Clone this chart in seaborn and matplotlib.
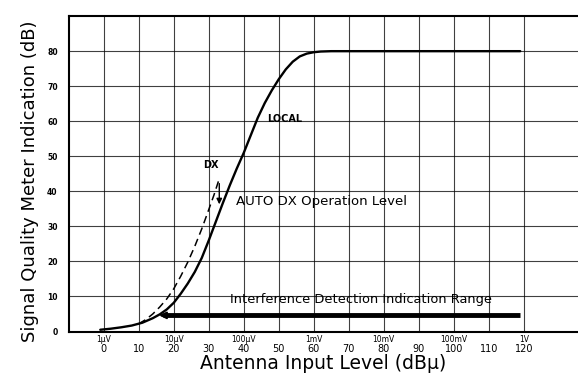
import matplotlib
matplotlib.use("Agg")
import matplotlib.pyplot as plt
import seaborn as sns
import pandas as pd

# LOCAL curve (solid)
local_x = [-1, 2, 5, 8, 11, 14, 16, 18, 20, 22, 24, 26, 28, 30, 32, 34, 36, 38, 40, 42, 44, 46, 48,
           50, 52, 54, 56, 58, 60, 62, 65, 80, 100, 119]
local_y = [0.5, 0.8, 1.2, 1.7, 2.5, 3.8, 4.9, 6.3, 8.2, 10.8, 13.7, 17, 21, 26, 31.3, 36.6, 41.7, 46.5, 51, 56, 61, 65.2, 68.8,
           72, 74.8, 77, 78.5, 79.3, 79.7, 79.9, 80, 80, 80, 80]

# DX curve (dashed)
dx_x = [10, 12, 14, 16, 18, 20, 22, 24, 26, 28, 30, 31.5, 32.8]
dx_y = [2.2, 3.4, 5, 7, 9.3, 12.2, 15.8, 19.8, 24.3, 29.3, 34.8, 39, 43]

# interference detection range
range_y = 4.6
range_x = [15, 119]

xticks = list(range(0, 130, 10))
unit_pos = [0, 20, 40, 60, 80, 100, 120]
unit_lbl = ["1\u03bcV", "10\u03bcV", "100\u03bcV", "1mV", "10mV", "100mV", "1V"]
yticks = list(range(0, 90, 10))

sns.set_style("white")
plt.rcParams['font.family'] = ['DejaVu Sans']

fig = plt.figure(figsize=(5.78, 3.75), dpi=100)
ax = fig.add_axes([0.119, 0.116, 0.881, 0.841])

local = pd.DataFrame({"x": local_x, "y": local_y})
dx = pd.DataFrame({"x": dx_x, "y": dx_y})
sns.lineplot(data=local, x="x", y="y", color="black", lw=1.7, ax=ax, sort=False)
sns.lineplot(data=dx, x="x", y="y", color="black", lw=1.1, ls=(0, (5, 3)), ax=ax, sort=False)

# interference range bar with arrow to the left
ax.plot([range_x[0] + 2, range_x[1]], [range_y, range_y], color="black", lw=3.5, solid_capstyle="butt")
ax.annotate("", xy=(range_x[0], range_y), xytext=(range_x[0] + 4, range_y),
            arrowprops=dict(arrowstyle="-|>", color="black", lw=1.5, mutation_scale=10))

# AUTO DX arrow
ax.annotate("", xy=(33, 35.5), xytext=(33, 43),
            arrowprops=dict(arrowstyle="-|>", color="black", lw=1.0, mutation_scale=8))

ax.text(30.5, 47.5, "DX", fontsize=7, fontweight="bold", ha="center", va="center", color="black")
ax.text(46.8, 60.5, "LOCAL", fontsize=7, fontweight="bold", ha="left", va="center", color="black")
ax.text(37.8, 37, "AUTO DX Operation Level", fontsize=9.5, ha="left", va="center", color="black")
ax.text(36, 9.2, "Interference Detection Indication Range", fontsize=9.4, ha="left", va="center", color="black")

ax.set_xlim(-10, 135.5)
ax.set_ylim(0, 90)
ax.set_xticks(xticks)
ax.set_yticks(yticks)
ax.set_xticklabels([str(v) for v in xticks], fontsize=7)
ax.set_yticklabels([str(v) for v in yticks], fontsize=5.5, fontweight="bold")
ax.tick_params(axis="x", length=0, pad=9, labelcolor="black")
ax.tick_params(axis="y", length=0, pad=8, labelcolor="black")
ax.grid(True, color="black", lw=0.8, alpha=0.75)

for p, l in zip(unit_pos, unit_lbl):
    ax.text(p, -1.0, l, fontsize=5.5, ha="center", va="top", color="black")

for s in ["left", "bottom", "top"]:
    ax.spines[s].set_color("black")
    ax.spines[s].set_linewidth(1.5)
ax.spines["right"].set_visible(False)

ax.set_xlabel("Antenna Input Level (dB\u03bc)", fontsize=13.5, labelpad=0, color="black")
ax.set_ylabel("Signal Quality Meter Indication (dB)", fontsize=13, color="black")
ax.yaxis.set_label_coords(-0.058, 0.475)

fig.savefig("out.png", dpi=100)
